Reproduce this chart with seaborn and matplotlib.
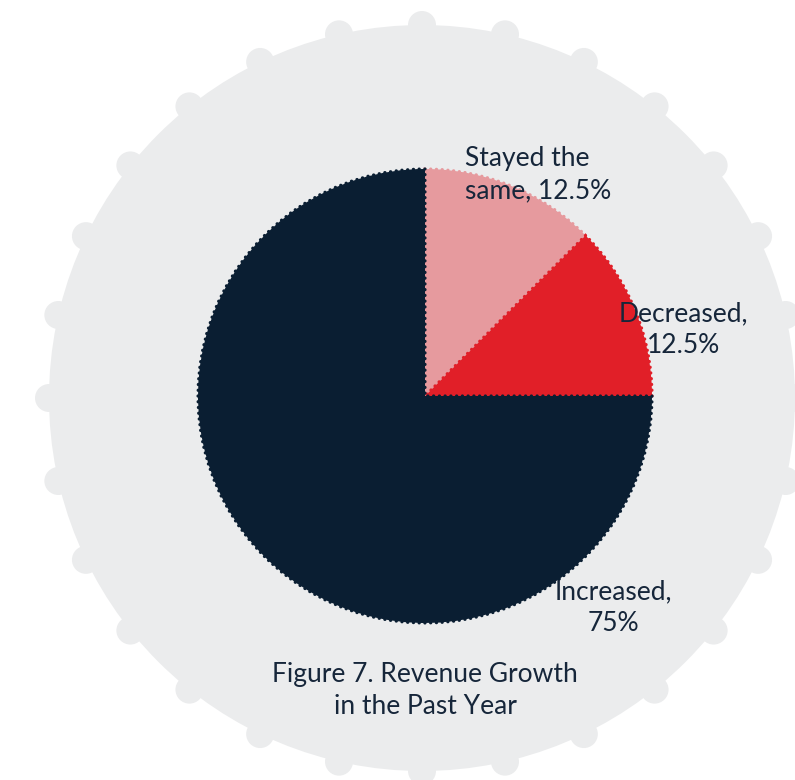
import numpy as np
import matplotlib
matplotlib.use("Agg")
import matplotlib.pyplot as plt
from matplotlib.patches import Circle
import seaborn as sns

# Survey results: how revenue changed over the past year
categories = ["Stayed the same", "Decreased", "Increased"]
shares = [12.5, 12.5, 75.0]
slice_colors = ["#e69a9e", "#e11f28", "#0a1e32"]
label_texts = ["Stayed the\nsame, 12.5%", "Decreased,\n12.5%", "Increased,\n75%"]
caption = "Figure 7. Revenue Growth\nin the Past Year"

sns.set_theme(style="white")
plt.rcParams["font.family"] = ["Lato", "DejaVu Sans"]

W, H, DPI = 795, 780, 100
fig = plt.figure(figsize=(W / DPI, H / DPI), dpi=DPI)
fig.patch.set_facecolor("white")
ax = fig.add_axes([0, 0, 1, 1])
ax.set_facecolor("white")

# pixel frame: pie centre at (425, 396), radius 227 px
cx, cy, r_px = 425, 396, 227

# gear-shaped backdrop: a disc with small round teeth on its rim
gear_grey = "#ebeced"
gx, gy = (422 - cx) / r_px, (cy - 398) / r_px
g_r = 373 / r_px
ax.add_patch(Circle((gx, gy), g_r, facecolor=gear_grey, edgecolor="none", zorder=0))
n_teeth = 28
for k in range(n_teeth):
    a = np.deg2rad(90 + k * 360 / n_teeth)
    ax.add_patch(Circle((gx + g_r * np.cos(a), gy + g_r * np.sin(a)), 14 / r_px,
                        facecolor=gear_grey, edgecolor="none", zorder=0))

wedges, _ = ax.pie(shares, colors=slice_colors, startangle=90, counterclock=False,
                   radius=1, center=(0, 0), frame=True,
                   wedgeprops=dict(linewidth=2.3, linestyle=(0, (0.05, 1.75))))
# each slice carries a dotted rim in its own colour; later slices sit on top
for z, (w, c) in enumerate(zip(wedges, slice_colors)):
    w.set_edgecolor(c)
    w.set_capstyle("round")
    w.set_zorder(2 + z)

ax.set_xlim(-cx / r_px, (W - cx) / r_px)
ax.set_ylim((cy - H) / r_px, cy / r_px)
ax.set_aspect("equal")
ax.axis("off")

txt_color = "#16263a"
fs = 19
ls = 1.36
ax.text(0.176, 0.976, label_texts[0], ha="left", va="center", fontsize=fs,
        color=txt_color, linespacing=ls, zorder=6)
ax.text(1.137, 0.292, label_texts[1], ha="center", va="center", fontsize=fs,
        color=txt_color, linespacing=ls, multialignment="center", zorder=6)
ax.text(0.828, -0.933, label_texts[2], ha="center", va="center", fontsize=fs,
        color=txt_color, linespacing=ls, multialignment="center", zorder=6)
ax.text(0.0, -1.298, caption, ha="center", va="center", fontsize=fs,
        color=txt_color, linespacing=ls, multialignment="center", zorder=6)

fig.savefig("out.png", dpi=DPI, facecolor="white")
